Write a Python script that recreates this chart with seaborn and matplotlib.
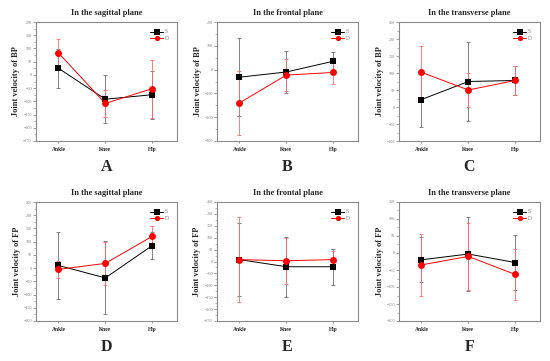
import numpy as np
import pandas as pd
import matplotlib
matplotlib.use("Agg")
import matplotlib.pyplot as plt
import seaborn as sns
from matplotlib.ticker import MultipleLocator, AutoMinorLocator

sns.set_style("white")
plt.rcParams['font.family'] = ['Liberation Serif', 'DejaVu Serif']

# data
joints = ["Ankle", "Knee", "Hip"]
groups = ["S", "D"]
panel_letters = ["A", "B", "C", "D", "E", "F"]
titles = ["In the sagittal plane", "In the frontal plane", "In the transverse plane"] * 2
ylabels = ["Joint velocity of BP"] * 3 + ["Joint velocity of FP"] * 3

s_mean = [[25, -92, -75], [-32, -10, 35], [22, 75, 78],
          [10, -37, 85], [8, -22, -22], [-20, -3, -28]]
s_sd = [[73, 90, 90], [165, 90, 40], [80, 117, 42],
        [127, 138, 52], [153, 127, 76], [66, 110, 82]]
d_mean = [[83, -108, -52], [-140, -23, -12], [102, 50, 78],
          [-5, 18, 120], [8, 3, 8], [-35, -10, -63]]
d_sd = [[52, 50, 110], [135, 68, 50], [77, 50, 42],
        [33, 80, 40], [178, 96, 37], [90, 98, 74]]

ylims = [(-250, 200), (-300, 200), (-100, 250), (-200, 250), (-250, 250), (-200, 150)]
ysteps = [50, 100, 50, 50, 50, 50]

fig = plt.figure(figsize=(5.5, 3.61), dpi=100)
W, H = 550, 361
lefts = [36, 217, 399]
tops = [22, 202]
aw, ah = 141, 119

styles = {"S": dict(ecolor="#6e6e6e"), "D": dict(ecolor="#ff6a6a")}

for i in range(6):
    row, col = divmod(i, 3)
    ax = fig.add_axes([lefts[col] / W, 1 - (tops[row] + ah) / H, aw / W, ah / H])
    df = pd.DataFrame({
        "joint": joints * 2,
        "group": ["S"] * 3 + ["D"] * 3,
        "value": s_mean[i] + d_mean[i],
        "sd": s_sd[i] + d_sd[i],
    })
    for g in groups:
        sub = df[df["group"] == g]
        ax.errorbar(np.arange(3), sub["value"], yerr=sub["sd"], fmt="none",
                    ecolor=styles[g]["ecolor"], elinewidth=0.6, capsize=1.2,
                    capthick=0.6, zorder=1)
    sns.lineplot(data=df, x="joint", y="value", hue="group", style="group",
                 hue_order=groups, palette={"S": "black", "D": "red"},
                 markers={"S": "s", "D": "o"}, dashes=False, sort=False,
                 linewidth=0.7, markersize=5, markeredgewidth=0, ax=ax, zorder=3)

    ax.set_xlim(-0.48, 2.53)
    ax.set_ylim(*ylims[i])
    ax.yaxis.set_major_locator(MultipleLocator(ysteps[i]))
    ax.yaxis.set_minor_locator(AutoMinorLocator(2))
    ax.tick_params(axis="y", which="major", direction="out", length=2, width=0.5,
                   labelsize=3, labelcolor="#7a7a7a", color="#7a7a7a", pad=1, left=True)
    ax.tick_params(axis="y", which="minor", direction="out", length=1.2, width=0.4,
                   color="#7a7a7a", left=True)
    ax.tick_params(axis="x", direction="out", length=1.5, width=0.5, color="#7a7a7a",
                   labelsize=4, pad=3, bottom=True)
    for lab in ax.get_xticklabels():
        lab.set_fontweight("bold")
    for sp in ax.spines.values():
        sp.set_color("#8a8a8a")
        sp.set_linewidth(0.8)

    ax.set_xlabel("")
    ax.set_ylabel(ylabels[i], fontsize=6, fontweight="bold", labelpad=2)
    ax.set_title(titles[i], fontsize=6, fontweight="bold", pad=5)
    ax.text(0.5, -0.22, panel_letters[i], transform=ax.transAxes, ha="center",
            va="center", fontsize=11.5, fontweight="bold")

    leg = ax.legend(loc="upper right", bbox_to_anchor=(0.97, 0.97), fontsize=4,
                    frameon=False, handlelength=2.2, borderaxespad=0.3,
                    labelspacing=0.35, handletextpad=0.4, markerscale=0.75)
    for t in leg.get_texts():
        t.set_color("#7a7a7a")

fig.savefig("out.png", dpi=100)
